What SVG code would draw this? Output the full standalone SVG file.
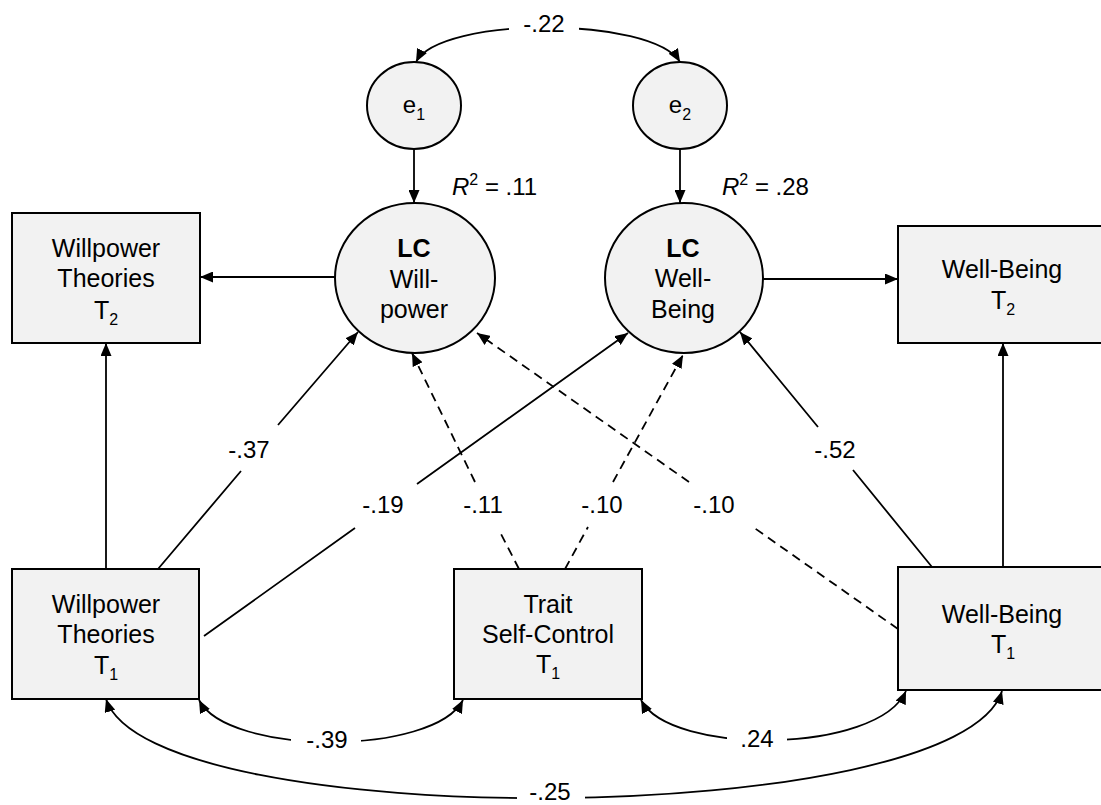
<svg xmlns="http://www.w3.org/2000/svg" width="1101" height="805" viewBox="0 0 1101 805">
<style>
text{font-family:"Liberation Sans",Arial,sans-serif;fill:#000}
.nt{font-size:25px;text-anchor:middle}
.lb{font-size:24px;text-anchor:middle}
.sub{font-size:16px}
.box{fill:#f2f2f2;stroke:#000;stroke-width:2}
.ln{fill:none;stroke:#000;stroke-width:1.8}
.dash{stroke-dasharray:9,6}
.gap{fill:#fff;stroke:none}
</style>
<defs>
<marker id="ah" markerUnits="userSpaceOnUse" markerWidth="13" markerHeight="11" refX="13" refY="5.5" orient="auto-start-reverse" viewBox="0 0 13 11">
<path d="M0,0 L13,5.5 L0,11 z" fill="#000"/>
</marker>
</defs>
<g id="connectors">
<path class="ln" d="M416,62 C440,16 652,16 680,62" marker-start="url(#ah)" marker-end="url(#ah)"/>
<path class="ln" d="M414,149 L414,203" marker-end="url(#ah)"/>
<path class="ln" d="M680,149 L680,203" marker-end="url(#ah)"/>
<path class="ln" d="M335,277 L200,277" marker-end="url(#ah)"/>
<path class="ln" d="M763,279 L898,279" marker-end="url(#ah)"/>
<path class="ln" d="M106,569 L106,343" marker-end="url(#ah)"/>
<path class="ln" d="M1003,567 L1003,343" marker-end="url(#ah)"/>
<path class="ln" d="M158,569 L241,471 M278,425 L358,332" marker-end="url(#ah)"/>
<path class="ln" d="M204,636 L355,528 M417,484 L628,333" marker-end="url(#ah)"/>
<path class="ln dash" d="M519,569 L500,532 M475,482 L412,353" marker-end="url(#ah)"/>
<path class="ln dash" d="M565,569 L588,527 M613,482 L683,355" marker-end="url(#ah)"/>
<path class="ln dash" d="M898,629 L753,527 M689,482 L477,333" marker-end="url(#ah)"/>
<path class="ln" d="M932,567 L853,470 M818,427 L740,332" marker-end="url(#ah)"/>
<path class="ln" d="M199,700 C228,756 434,756 463,700" marker-start="url(#ah)" marker-end="url(#ah)"/>
<path class="ln" d="M641,700 C670,756 878,754 906,691" marker-start="url(#ah)" marker-end="url(#ah)"/>
<path class="ln" d="M106,699 C150,835 960,830 1002,691" marker-start="url(#ah)" marker-end="url(#ah)"/>
</g>
<g id="labels">
<rect class="gap" x="509" y="10" width="70" height="32"/>
<text class="lb" x="544" y="32">-.22</text>
<text x="452" y="195" style="font-size:24px"><tspan font-style="italic">R</tspan><tspan class="sub" dy="-10">2</tspan><tspan dy="10"> = .11</tspan></text>
<text x="722" y="195" style="font-size:24px"><tspan font-style="italic">R</tspan><tspan class="sub" dy="-10">2</tspan><tspan dy="10"> = .28</tspan></text>
<text class="lb" x="249" y="458">-.37</text>
<text class="lb" x="835" y="458">-.52</text>
<text class="lb" x="383" y="513">-.19</text>
<text class="lb" x="483" y="513">-.11</text>
<text class="lb" x="602" y="513">-.10</text>
<text class="lb" x="714" y="513">-.10</text>
<rect class="gap" x="291" y="726" width="70" height="30"/>
<text class="lb" x="327" y="748">-.39</text>
<rect class="gap" x="727" y="726" width="60" height="30"/>
<text class="lb" x="757" y="747">.24</text>
<rect class="gap" x="517" y="780" width="68" height="25"/>
<text class="lb" x="550" y="800">-.25</text>
</g>
<g id="e1">
<ellipse class="box" cx="414" cy="105.5" rx="47" ry="43.5"/>
<text class="nt" x="414" y="113" style="font-size:24px">e<tspan class="sub" dy="7">1</tspan></text>
</g>
<g id="e2">
<ellipse class="box" cx="680" cy="105.5" rx="47" ry="43.5"/>
<text class="nt" x="680" y="113" style="font-size:24px">e<tspan class="sub" dy="7">2</tspan></text>
</g>
<g id="lc-willpower">
<ellipse class="box" cx="415" cy="278" rx="80" ry="75"/>
<text class="nt" x="414" y="257" font-weight="bold">LC</text>
<text class="nt" x="414" y="288">Will-</text>
<text class="nt" x="414" y="318">power</text>
</g>
<g id="lc-wellbeing">
<ellipse class="box" cx="684" cy="278" rx="79" ry="75"/>
<text class="nt" x="683" y="257" font-weight="bold">LC</text>
<text class="nt" x="683" y="287">Well-</text>
<text class="nt" x="683" y="318">Being</text>
</g>
<g id="willpower-t2">
<rect class="box" x="12" y="213" width="188" height="130"/>
<text class="nt" x="106" y="257">Willpower</text>
<text class="nt" x="106" y="287">Theories</text>
<text class="nt" x="106" y="319">T<tspan class="sub" dy="6">2</tspan></text>
</g>
<g id="wellbeing-t2">
<rect class="box" x="898" y="226" width="210" height="117"/>
<text class="nt" x="1002" y="278">Well-Being</text>
<text class="nt" x="1003" y="309">T<tspan class="sub" dy="6">2</tspan></text>
</g>
<g id="willpower-t1">
<rect class="box" x="12" y="569" width="187" height="130"/>
<text class="nt" x="106" y="613">Willpower</text>
<text class="nt" x="106" y="643">Theories</text>
<text class="nt" x="106" y="674">T<tspan class="sub" dy="6">1</tspan></text>
</g>
<g id="trait-selfcontrol-t1">
<rect class="box" x="454" y="569" width="188" height="130"/>
<text class="nt" x="548" y="613">Trait</text>
<text class="nt" x="548" y="643">Self-Control</text>
<text class="nt" x="548" y="673">T<tspan class="sub" dy="6">1</tspan></text>
</g>
<g id="wellbeing-t1">
<rect class="box" x="898" y="567" width="210" height="123"/>
<text class="nt" x="1002" y="623">Well-Being</text>
<text class="nt" x="1003" y="653">T<tspan class="sub" dy="6">1</tspan></text>
</g>
</svg>
